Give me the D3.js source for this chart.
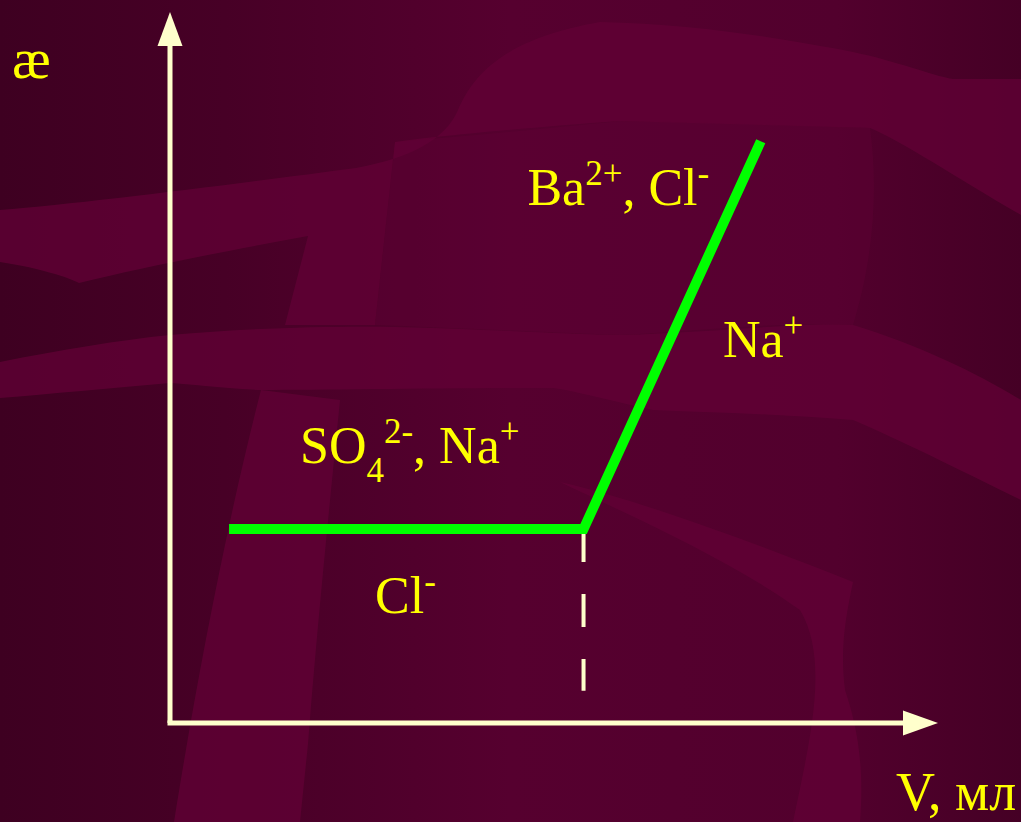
<!DOCTYPE html>
<html>
<head>
<meta charset="utf-8">
<script src="https://cdn.jsdelivr.net/npm/d3@7"></script>
<style>
    html, body { margin: 0; padding: 0; background: #4e002b; overflow: hidden; }
    text { font-family: "Liberation Serif", "Times New Roman", serif; }
</style>
</head>
<body>
<div id="chart"></div>
<script>
canWidth = 1021;
canHeight = 822;

// conductivity curve (V in units, conductivity in units)
var line_x = [1, 7, 10];
var line_y = [3, 3, 9];

// equivalence point
var eq_x = 7;
var eq_y = [3, 0.5];

// axis extents
var x_domain = [0, 13];
var y_domain = [0, 11];

// ion labels: text parts, kind of each part, position in data units
var label_parts = [
    ["Ba", "2+", ", Cl", "-"],
    ["Na", "+"],
    ["SO", "4", "2-", ", Na", "+"],
    ["Cl", "-"]
];
var label_kinds = [
    ["n", "sup", "n", "sup"],
    ["n", "sup"],
    ["n", "sub", "sup", "n", "sup"],
    ["n", "sup"]
];
var label_x = [6.05, 9.36, 2.2, 3.47];
var label_y = [8.02, 5.66, 4.02, 1.70];

var y_title = "æ";
var x_title = "V, мл";

var x = d3.scaleLinear().domain(x_domain).range([170, 938]);
var y = d3.scaleLinear().domain(y_domain).range([723, 12]);

var font_size = 52;
var small_size = 35;
var shift = 20;

var svg = d3
    .select("#chart")
    .append("svg")
    .attr("width", canWidth)
    .attr("height", canHeight);

// background with lighter swirls
var defs = svg.append("defs");
var grad = defs.append("linearGradient")
    .attr("id", "bg")
    .attr("x1", "0").attr("y1", "0")
    .attr("x2", "1").attr("y2", "0");
grad.append("stop").attr("offset", "0").attr("stop-color", "#3e0021");
grad.append("stop").attr("offset", "0.22").attr("stop-color", "#470026");
grad.append("stop").attr("offset", "0.5").attr("stop-color", "#56002f");
grad.append("stop").attr("offset", "0.82").attr("stop-color", "#52002d");
grad.append("stop").attr("offset", "1").attr("stop-color", "#450025");

svg.append("rect")
    .attr("width", canWidth)
    .attr("height", canHeight)
    .attr("fill", "url(#bg)");

var swirls = [
    // upper band and the big curl
    "M0,210 C90,203 250,182 356,168 C410,158 445,140 458,110 C475,70 510,38 600,22 C700,24 790,40 853,52 C900,62 930,75 953,79 L1021,79 L1021,215 C960,180 900,140 870,128 L620,121 C520,128 420,138 395,142 L375,325 L285,325 L308,236 C220,252 140,268 79,283 C70,278 40,268 0,262 Z",
    // middle band
    "M0,362 C60,350 120,340 170,335 C250,328 330,326 395,327 C480,329 560,334 620,335 C720,332 800,322 853,325 C920,345 980,375 1021,400 L1021,500 C960,470 900,440 853,420 C780,414 700,412 653,410 C600,398 570,390 553,388 C450,388 330,390 261,390 C220,388 190,384 170,383 C110,388 50,394 0,398 Z",
    // slanted strip
    "M261,390 L340,400 C328,520 316,640 308,744 L300,822 L174,822 C195,690 225,530 261,390 Z",
    // lower curl
    "M560,482 C640,500 760,545 853,582 C845,620 840,650 845,690 C855,720 865,760 860,822 L793,822 C810,740 830,660 800,610 C730,560 640,520 560,482 Z",
    // soft light patch behind the ion labels
    "M395,142 C470,136 550,128 620,121 C700,122 800,126 870,128 C880,200 870,270 853,325 C760,322 690,332 620,335 C540,332 460,328 375,325 Z"
];

svg.selectAll(".swirl")
    .data(swirls)
    .enter()
    .append("path")
    .attr("class", "swirl")
    .attr("d", function (d) { return d; })
    .attr("fill", "#620036")
    .attr("opacity", function (d, i) { return i == 4 ? 0.35 : 0.75; });

// axes with arrow heads
var axis_color = "#ffffcc";
var x0 = x(0), y0 = y(0);
var x_end = x(x_domain[1]), y_end = y(y_domain[1]);

svg.append("path")
    .attr("d", "M" + x0 + "," + y0 + "L" + x0 + "," + (y_end + 30))
    .attr("stroke", axis_color)
    .attr("stroke-width", 5)
    .attr("fill", "none");

svg.append("path")
    .attr("d", "M" + (x0 - 2.5) + "," + y0 + "L" + (x_end - 30) + "," + y0)
    .attr("stroke", axis_color)
    .attr("stroke-width", 5)
    .attr("fill", "none");

svg.append("path")
    .attr("d", "M" + (x0 - 12.5) + "," + (y_end + 34) + "L" + x0 + "," + y_end + "L" + (x0 + 12.5) + "," + (y_end + 34) + "Z")
    .attr("fill", axis_color);

svg.append("path")
    .attr("d", "M" + (x_end - 35) + "," + (y0 - 12.5) + "L" + x_end + "," + y0 + "L" + (x_end - 35) + "," + (y0 + 12.5) + "Z")
    .attr("fill", axis_color);

// dashed drop line at equivalence point
svg.append("line")
    .attr("x1", x(eq_x))
    .attr("x2", x(eq_x))
    .attr("y1", y(eq_y[0]))
    .attr("y2", y(eq_y[1]))
    .attr("stroke", axis_color)
    .attr("stroke-width", 4)
    .attr("stroke-dasharray", "33,32");

// titration curve
var points = line_x.map(function (d, i) { return [d, line_y[i]]; });

svg.append("path")
    .datum(points)
    .attr("d", d3.line()
        .x(function (d) { return x(d[0]); })
        .y(function (d) { return y(d[1]); }))
    .attr("stroke", "#00ff00")
    .attr("stroke-width", 10)
    .attr("stroke-linejoin", "miter")
    .attr("fill", "none");

// ion labels
for (let i = 0; i < label_parts.length; i++) {
    var t = svg.append("text")
        .attr("x", x(label_x[i]))
        .attr("y", y(label_y[i]))
        .attr("fill", "#ffff00")
        .attr("font-size", font_size);
    var level = 0;
    for (let j = 0; j < label_parts[i].length; j++) {
        var kind = label_kinds[i][j];
        var target = kind == "sup" ? -shift : (kind == "sub" ? shift - 1 : 0);
        t.append("tspan")
            .attr("dy", target - level)
            .attr("font-size", kind == "n" ? font_size : small_size)
            .text(label_parts[i][j]);
        level = target;
    }
}

// axis titles
svg.append("text")
    .attr("x", 12)
    .attr("y", 78)
    .attr("fill", "#ffff00")
    .attr("font-size", 58)
    .text(y_title);

svg.append("text")
    .attr("x", 896)
    .attr("y", 810)
    .attr("fill", "#ffff00")
    .attr("font-size", 54)
    .text(x_title);
</script>
</body>
</html>
